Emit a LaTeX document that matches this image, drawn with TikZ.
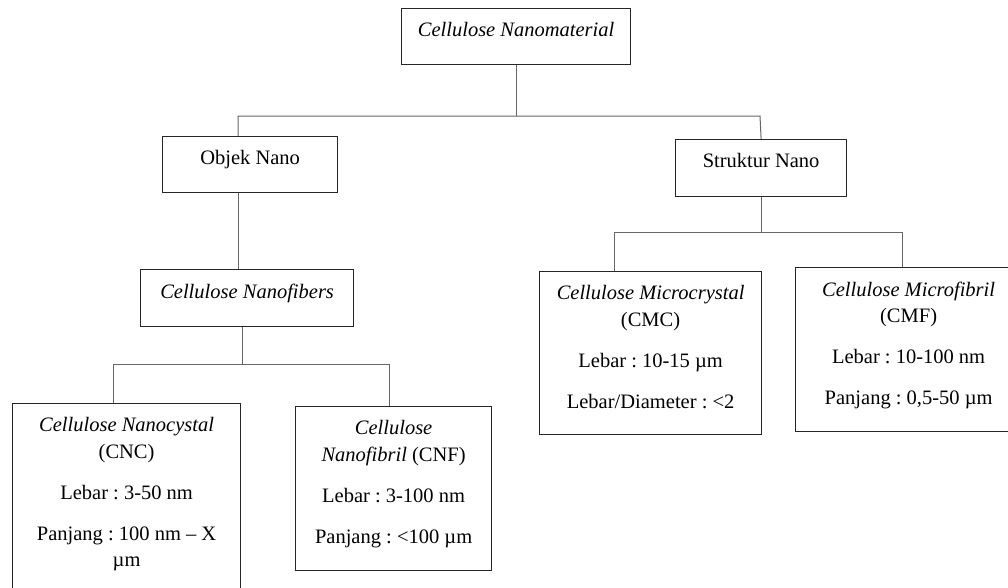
\documentclass[tikz,border=0pt]{standalone}
\usepackage{fontspec}
\setmainfont{Liberation Serif}
\usetikzlibrary{positioning}
\frenchspacing

\begin{document}
\begin{tikzpicture}[x=1pt, y=-1pt,
  box/.style={draw=black!85, line width=1.2pt, rectangle, anchor=north west, inner sep=0pt},
  lbl/.style={align=center, inner sep=0pt, font=\fontsize{20.5}{26.5}\selectfont},
  conn/.style={draw=black!60, line width=1pt}]
\useasboundingbox (0,0) rectangle (1008,587);

% Boxes
\node[box, minimum width=229pt, minimum height=56pt] (cnm) at (401,8) {};
\node[box, minimum width=175pt, minimum height=56pt] (on) at (162,136) {};
\node[box, minimum width=171pt, minimum height=57pt] (sn) at (675,139) {};
\node[box, minimum width=213pt, minimum height=57pt] (cnf) at (140,269) {};
\node[box, minimum width=228pt, minimum height=220pt] (cnc) at (12,403) {};
\node[box, minimum width=196pt, minimum height=164pt] (cnfb) at (295,406) {};
\node[box, minimum width=222pt, minimum height=163pt] (cmc) at (539,271) {};
\node[box, minimum width=226pt, minimum height=164pt] (cmf) at (795,267) {};

% Labels
\node[lbl, below=14.5pt of cnm.north] (cnmlbl) {\textit{Cellulose Nanomaterial}};
\node[lbl, below=14.5pt of on.north] (onlbl) {Objek Nano};
\node[lbl, below=14.5pt of sn.north] (snlbl) {Struktur Nano};
\node[lbl, below=14.5pt of cnf.north] (cnflbl) {\textit{Cellulose Nanofibers}};
\node[lbl, below=14.5pt of cnc.north] (cnclbl) {\textit{Cellulose Nanocystal}\\(CNC)\\[14.5pt]Lebar : 3-50 nm\\[14.5pt]Panjang : 100 nm – X\\µm};
\node[lbl, below=14.5pt of cnfb.north] (cnfblbl) {\textit{Cellulose}\\\textit{Nanofibril} (CNF)\\[14.5pt]Lebar : 3-100 nm\\[14.5pt]Panjang : <100 µm};
\node[lbl, below=14.5pt of cmc.north] (cmclbl) {\textit{Cellulose Microcrystal}\\(CMC)\\[14.5pt]Lebar : 10-15 µm\\[14.5pt]Lebar/Diameter : <2};
\node[lbl, below=14.5pt of cmf.north] (cmflbl) {\textit{Cellulose Microfibril}\\(CMF)\\[14.5pt]Lebar : 10-100 nm\\[14.5pt]Panjang : 0,5-50 µm};

% Connectors
\coordinate (b1l) at (238,116);
\coordinate (b1r) at (760,116);
\coordinate (b2m) at (242,364);
\coordinate (b2l) at (113,364);
\coordinate (b2r) at (389,364);
\coordinate (b3l) at (614,232);
\coordinate (b3r) at (902,232);

\draw[conn] (cnm.south) -- (cnm.south |- b1l);
\draw[conn] (on.north -| b1l) -- (b1l) -- (b1r) -- (sn.north);
\draw[conn] (on.south -| b1l) -- (cnf.north -| b1l);
\draw[conn] (cnf.south -| b2m) -- (b2m);
\draw[conn] (cnc.north -| b2l) -- (b2l) -- (b2r) -- (cnfb.north -| b2r);
\draw[conn] (sn.south) -- (sn.south |- b3l);
\draw[conn] (cmc.north -| b3l) -- (b3l) -- (b3r) -- (cmf.north -| b3r);
\end{tikzpicture}
\end{document}
